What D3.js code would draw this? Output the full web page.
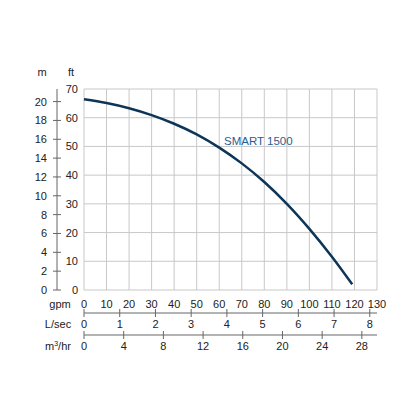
<!DOCTYPE html>
<html><head><meta charset="utf-8">
<script src="https://cdn.jsdelivr.net/npm/d3@7"></script>
<style>body{margin:0;background:#fff}text{font-family:"Liberation Sans",Arial,sans-serif;fill:#222}</style>
</head><body><div id="chart"></div>
<script>
const gpmTicks = d3.range(0, 131, 10);
const ftTicks = d3.range(0, 71, 10);
const mTicks = d3.range(0, 21, 2);
const lsecTicks = d3.range(0, 9, 1);
const m3hrTicks = d3.range(0, 29, 4);
const curveGpm = [0, 10, 20, 30, 40, 50, 60, 70, 80, 90, 100, 110, 119];
const curveFt = [66.4, 65.1, 63.3, 60.9, 57.9, 54.2, 49.6, 44.1, 37.6, 30, 21.3, 11.6, 2];
const seriesName = "SMART 1500";

const svg = d3.select("#chart").append("svg").attr("width", 416).attr("height", 416);
const x = d3.scaleLinear().domain([0, 130]).range([84, 377]);
const y = d3.scaleLinear().domain([0, 70]).range([290, 89]);
const grid = "#c8c8c8", axc = "#666";

svg.append("g").selectAll("line").data(gpmTicks).join("line")
  .attr("x1", d => x(d)).attr("x2", d => x(d)).attr("y1", y(0)).attr("y2", y(70))
  .attr("stroke", grid);
svg.append("g").selectAll("line").data(ftTicks).join("line")
  .attr("x1", x(0)).attr("x2", x(130)).attr("y1", d => y(d)).attr("y2", d => y(d))
  .attr("stroke", grid);

svg.append("g").selectAll("text").data(ftTicks).join("text")
  .attr("x", 78).attr("y", d => y(d) + 4).attr("text-anchor", "end").attr("font-size", 11).text(d => d);
const ym = d3.scaleLinear().domain([0, 20]).range([y(0), y(20 * 3.2808)]);
svg.append("line").attr("x1", 57).attr("x2", 57).attr("y1", y(0)).attr("y2", y(70)).attr("stroke", axc);
svg.append("g").selectAll("line").data(mTicks).join("line")
  .attr("x1", 53).attr("x2", 61).attr("y1", d => ym(d)).attr("y2", d => ym(d)).attr("stroke", axc);
svg.append("g").selectAll("text").data(mTicks).join("text")
  .attr("x", 47).attr("y", d => ym(d) + 4).attr("text-anchor", "end").attr("font-size", 11).text(d => d);
svg.append("text").attr("x", 42).attr("y", 76).attr("text-anchor", "middle").attr("font-size", 11).text("m");
svg.append("text").attr("x", 71).attr("y", 76).attr("text-anchor", "middle").attr("font-size", 11).text("ft");

svg.append("g").selectAll("text").data(gpmTicks).join("text")
  .attr("x", d => x(d)).attr("y", 308).attr("text-anchor", "middle").attr("font-size", 11).text(d => d);
svg.append("text").attr("x", 60).attr("y", 308).attr("text-anchor", "middle").attr("font-size", 11).text("gpm");

function subAxis(ticks, factor, yLine, label) {
  svg.append("line").attr("x1", x(0)).attr("x2", x(130)).attr("y1", yLine).attr("y2", yLine).attr("stroke", axc);
  svg.append("g").selectAll("line").data(ticks).join("line")
    .attr("x1", d => x(d * factor)).attr("x2", d => x(d * factor))
    .attr("y1", yLine - 4).attr("y2", yLine + 4).attr("stroke", axc);
  svg.append("g").selectAll("text").data(ticks).join("text")
    .attr("x", d => x(d * factor)).attr("y", yLine + 15).attr("text-anchor", "middle").attr("font-size", 11).text(d => d);
  svg.append("text").attr("x", 58).attr("y", yLine + 15).attr("text-anchor", "middle").attr("font-size", 11).html(label);
}
subAxis(lsecTicks, 15.85, 313, "L/sec");
subAxis(m3hrTicks, 4.403, 335, "m<tspan dy='-4' font-size='7'>3</tspan><tspan dy='4'>/hr</tspan>");

const pts = curveGpm.map((g, i) => [g, curveFt[i]]);
svg.append("path").datum(pts)
  .attr("d", d3.line().x(d => x(d[0])).y(d => y(d[1])).curve(d3.curveCatmullRom))
  .attr("fill", "none").attr("stroke", "#0d3557").attr("stroke-width", 2.5);
svg.append("text").attr("x", 224).attr("y", 145).attr("font-size", 11.5)
  .style("fill", "#2a5d8f").text(seriesName);
</script></body></html>
